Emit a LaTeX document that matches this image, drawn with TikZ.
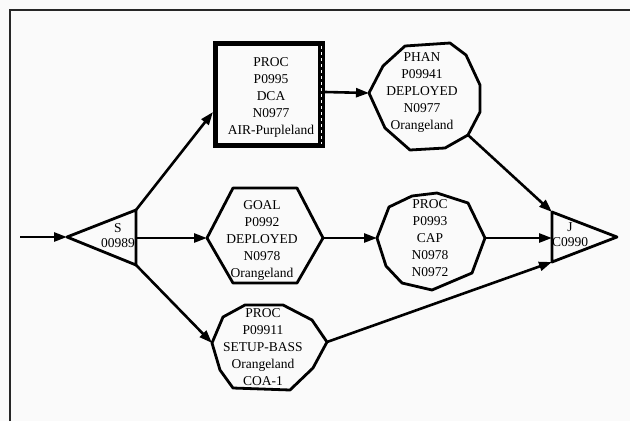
\documentclass[tikz,border=0pt]{standalone}
\usepackage{fontspec}
\setmainfont{Liberation Serif}
\usetikzlibrary{arrows.meta}
\begin{document}
\begin{tikzpicture}[x=1pt,y=-1pt,
  outline/.style={line width=2.8pt, line join=round},
  arr/.style={line width=2.6pt, -{Triangle[length=13pt,width=9pt]}},
  lbl/.style={align=center, font=\fontsize{13.5}{17}\selectfont, inner sep=0pt},
  tri/.style={align=center, font=\fontsize{13.5}{15}\selectfont, inner sep=0pt},
]
% page and frame
\fill[gray!4] (0,0) rectangle (630,421);
\useasboundingbox (0,0) rectangle (630,421);
\draw[line width=2pt, black!85] (10,421) -- (10,10) -- (630,10);

% start triangle S
\coordinate (s-tip) at (67,237);
\coordinate (s-top) at (136,210);
\coordinate (s-bot) at (136,265);
\coordinate (s-right) at (136,238);
\draw[outline] (s-tip) -- (s-top) -- (s-bot) -- cycle;
\node[tri] (s) at (118,235.5) {S\\00989};

% join triangle J
\coordinate (j-top) at (552,212);
\coordinate (j-bot) at (552,262);
\coordinate (j-left) at (552,238);
\draw[outline] (j-top) -- (617,237) -- (j-bot) -- cycle;
\node[tri] (j) at (570,234.5) {J\\C0990};

% process box with film-strip right edge
\draw[line width=4.5pt] (320.5,43.5) -- (215.5,43.5) -- (215.5,145.5) -- (320.5,145.5);
\fill (318,41.25) rectangle (325,147.75);
\draw[white, line width=1.8pt, dash pattern=on 2.5pt off 3.5pt] (321.5,46) -- (321.5,144);
\coordinate (box-in) at (213,112);
\coordinate (box-out) at (325,92);
\node[lbl] (dca) at (271,97) {PROC\\P0995\\DCA\\N0977\\AIR-Purpleland};

% PHAN
\coordinate (phan-in) at (369,93);
\coordinate (phan-out) at (468,135);
\draw[outline] (phan-in) -- (383,66) -- (405,46) -- (450,43) -- (466,55) -- (480,85)
  -- (480,112) -- (phan-out) -- (445,148) -- (410,150) -- (385,128) -- cycle;
\node[lbl] (phan) at (422,92) {PHAN\\P09941\\DEPLOYED\\N0977\\Orangeland};

% GOAL
\coordinate (goal-in) at (207,238);
\coordinate (goal-out) at (323,238);
\draw[outline] (goal-in) -- (233,188) -- (297,188) -- (goal-out) -- (297,283) -- (233,283) -- cycle;
\node[lbl] (goal) at (262,240) {GOAL\\P0992\\DEPLOYED\\N0978\\Orangeland};

% PROC P0993
\coordinate (cap-in) at (377,238);
\coordinate (cap-out) at (485,238);
\draw[outline] (cap-in) -- (389,207) -- (412,196) -- (437,193) -- (468,203) -- (cap-out)
  -- (472,273) -- (432,290) -- (402,283) -- (386,266) -- cycle;
\node[lbl] (cap) at (430,238) {PROC\\P0993\\CAP\\N0978\\N0972};

% PROC P09911
\coordinate (bass-in) at (212,343);
\coordinate (bass-out) at (327,342);
\draw[outline] (bass-in) -- (223,317) -- (245,305) -- (283,305) -- (312,320) -- (bass-out)
  -- (313,368) -- (290,390) -- (233,388) -- (220,370) -- cycle;
\node[lbl] (bass) at (263,347) {PROC\\P09911\\SETUP-BASS\\Orangeland\\COA-1};

% connectors
\coordinate (start) at (20,237);
\draw[arr] (start) -- (s-tip);
\draw[arr] (s-top) -- (box-in);
\draw[arr] (s-right) -- (goal-in);
\draw[arr] (s-bot) -- (bass-in);
\draw[arr] (box-out) -- (phan-in);
\draw[arr] (goal-out) -- (cap-in);
\draw[arr] (cap-out) -- (j-left);
\draw[arr] (phan-out) -- (j-top);
\draw[arr] (bass-out) -- (j-bot);
\end{tikzpicture}
\end{document}
